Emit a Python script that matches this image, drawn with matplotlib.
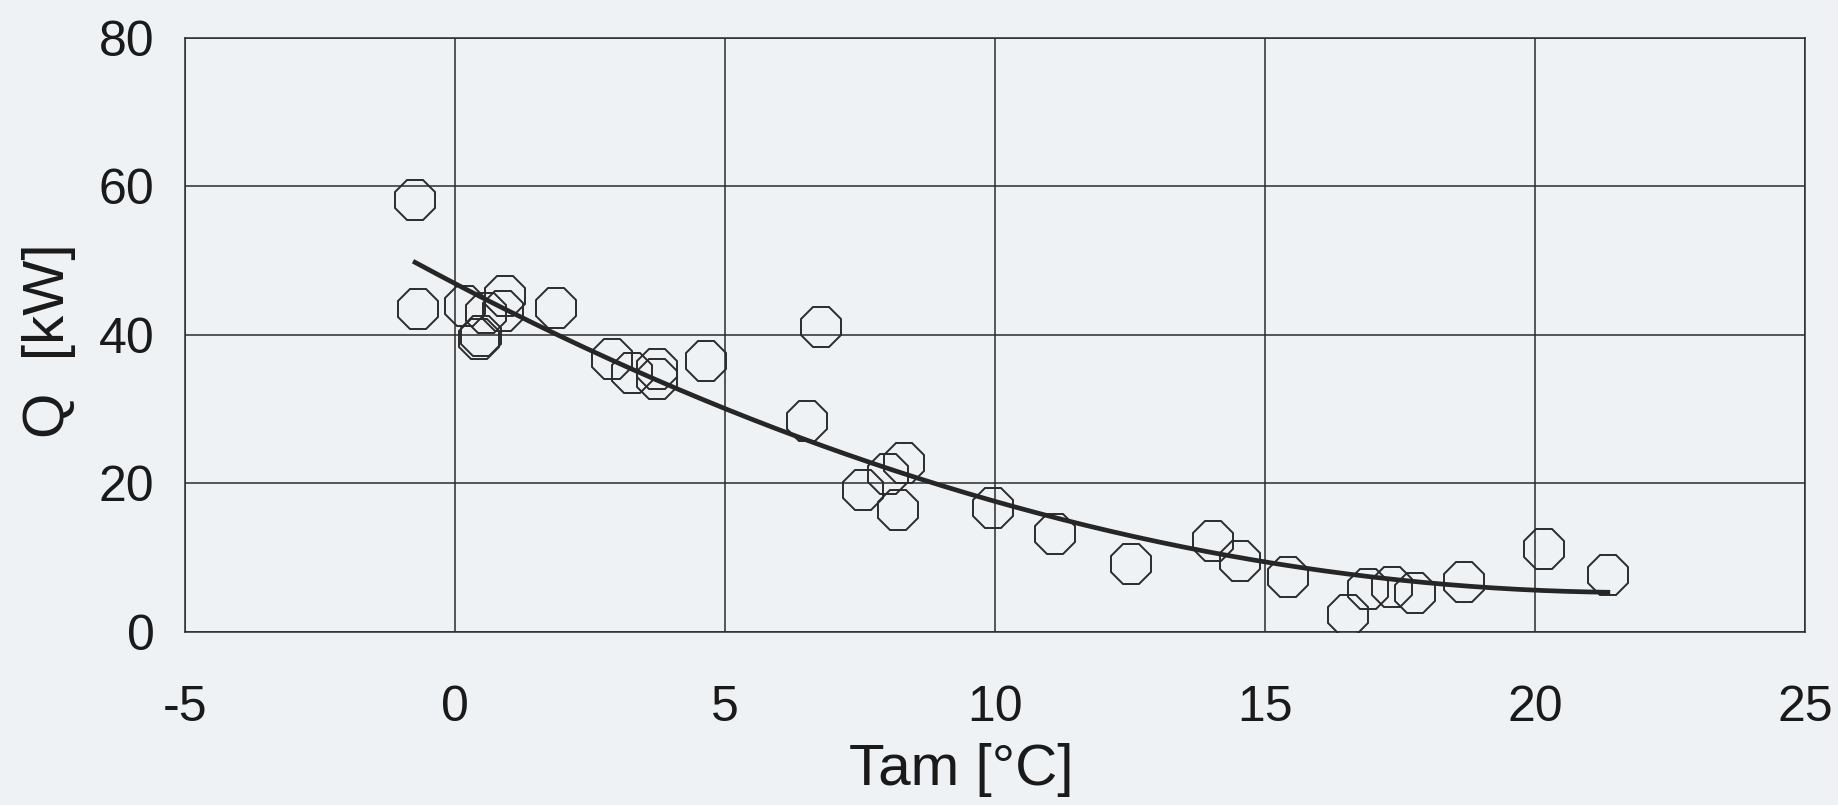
import numpy as np
import matplotlib
matplotlib.use('Agg')
import matplotlib.pyplot as plt

plt.rcParams['font.family'] = ['Liberation Sans', 'DejaVu Sans']
plt.rcParams['axes.unicode_minus'] = False

# Измерения: температура окружающей среды и тепловая мощность
tam = [-0.74, -0.68, 0.19, 0.45, 0.48, 0.58, 0.93, 0.89, 1.87, 2.91, 3.28,
       3.74, 3.74, 4.65, 6.51, 6.77, 7.55, 8.02, 8.31, 8.20, 9.97, 11.12,
       12.52, 14.04, 14.53, 15.42, 16.54, 16.91, 17.36, 17.77, 18.68, 20.16, 21.35]
q_kw = [58.1, 43.5, 43.9, 39.5, 39.9, 43.0, 45.3, 43.2, 43.6, 36.8, 34.9,
        35.4, 34.0, 36.5, 28.4, 41.0, 19.1, 21.2, 22.7, 16.4, 16.7, 13.2,
        9.2, 12.2, 9.5, 7.4, 2.3, 5.8, 6.0, 5.3, 6.7, 11.1, 7.6]

x_ticks = [-5, 0, 5, 10, 15, 20, 25]
y_ticks = [0, 20, 40, 60, 80]

bg = '#eef2f5'
ink = '#2b2b2b'

fig = plt.figure(figsize=(18.38, 8.05), dpi=100, facecolor=bg)
ax = fig.add_axes([0.1007, 0.215, 0.8813, 0.738], facecolor=bg)

ax.plot(tam, q_kw, linestyle='none', marker='8', markersize=31,
        markerfacecolor='none', markeredgecolor=ink, markeredgewidth=1.4, zorder=3)

# полиномиальный тренд 2-го порядка
c = np.polyfit(tam, q_kw, 2)
xs = np.linspace(min(tam), max(tam), 200)
ax.plot(xs, np.polyval(c, xs), color='#262626', linewidth=3.4, zorder=4)

ax.set_xlim(-5, 25)
ax.set_ylim(0, 80)
ax.set_xticks(x_ticks)
ax.set_yticks(y_ticks)
ax.grid(True, color=ink, linewidth=1.1)
ax.set_axisbelow(True)
for s in ax.spines.values():
    s.set_color(ink)
    s.set_linewidth(1.1)

ax.tick_params(axis='x', length=0, pad=38, labelsize=36, labelcolor='#1a1a1a')
ax.tick_params(axis='y', length=0, pad=22, labelsize=36, labelcolor='#1a1a1a')

ax.set_xlabel('Tam [°C]', fontsize=42, color='#1a1a1a')
ax.set_ylabel('Q  [kW]', fontsize=42, color='#1a1a1a')
ax.xaxis.label.set_va('center')
ax.yaxis.label.set_va('center')
ax.xaxis.set_label_coords(0.479, -0.232)
ax.yaxis.set_label_coords(-0.084, 0.491)

fig.savefig('out.png', dpi=100, facecolor=bg)
